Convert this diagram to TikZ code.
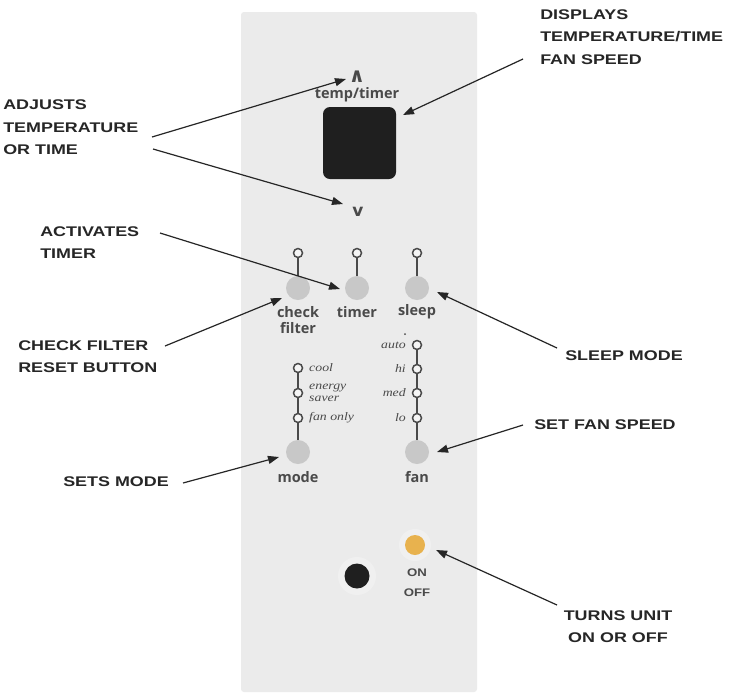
\documentclass[tikz,border=0pt]{standalone}
\usepackage{fontspec}
\setmainfont{Liberation Sans}
\newfontfamily\panelfont{Open Sans}
\newfontfamily\italfont{Liberation Serif}
\newfontfamily\symfont{DejaVu Sans}
\usetikzlibrary{arrows.meta,calc}
\definecolor{panel}{HTML}{EBEBEB}
\definecolor{btn}{HTML}{C8C8C8}
\definecolor{ink}{HTML}{262626}
\definecolor{ptext}{HTML}{4A4A4A}
\definecolor{onbtn}{HTML}{E8B24E}
\begin{document}
\begin{tikzpicture}[x=1pt,y=-1pt,
  callout/.style={font=\fontsize{14}{22.5}\selectfont\bfseries, text=ink, align=left, inner sep=0pt, xscale=1.28, anchor=west},
  pnl/.style={font=\panelfont\bfseries\fontsize{14.5}{17}\selectfont, text=ptext, inner sep=0pt, align=center},
  ital/.style={font=\italfont\itshape\fontsize{11.5}{13}\selectfont, text=ptext, inner sep=0pt, xscale=1.2},
  button/.style={circle, fill=btn, minimum size=24pt, inner sep=0pt},
  ring/.style={circle, draw=ptext, line width=1.5pt, fill=white!50!panel, minimum size=9pt, inner sep=0pt},
  stem/.style={draw=ptext, line width=1.5pt},
  arr/.style={draw=ink, line width=1.2pt, -{Triangle[length=11pt,width=8pt]}}
]
\useasboundingbox (0,0) rectangle (743,694);
\fill[white] (0,0) rectangle (743,694);
% panel
\fill[panel, rounded corners=3pt] (241,12) rectangle (477,692);

% display
\node[fill=black!88, rounded corners=7pt, minimum width=73pt, minimum height=72pt, inner sep=0pt] (disp) at (359.5,143) {};
\node[font=\symfont\bfseries\fontsize{20}{20}\selectfont, text=ptext, inner sep=0pt] (up) at (357,77) {∧};
\node[pnl] (tt) at (357,95) {temp/timer};
\node[font=\symfont\bfseries\fontsize{17}{17}\selectfont, text=ptext, inner sep=0pt] (down) at (358,212) {v};

% top row buttons
\node[button] (chkb) at (298,288) {};
\node[button] (timb) at (357,288) {};
\node[button] (slpb) at (417,288) {};
\node[ring] (chkr) at (298,253) {};
\node[ring] (timr) at (357,253) {};
\node[ring] (slpr) at (417,253) {};
\draw[stem] (chkr) -- (chkb);
\draw[stem] (timr) -- (timb);
\draw[stem] (slpr) -- (slpb);
\node[pnl] (chkt) at (298,320) {check\\[-1pt]filter};
\node[pnl] (timt) at (357,312) {timer};
\node[pnl] (slpt) at (417,312) {sleep};
\fill[ptext] (405,334) circle (1pt);

% mode column
\node[button] (modeb) at (298,452) {};
\node[ring] (mr1) at (298,368) {};
\node[ring] (mr2) at (298,393) {};
\node[ring] (mr3) at (298,418) {};
\draw[stem] (mr1) -- (mr2);
\draw[stem] (mr2) -- (mr3);
\draw[stem] (mr3) -- (modeb);
\node[ital, anchor=west] (cool) at (309,368) {cool};
\node[ital, anchor=west, align=left, font=\italfont\itshape\fontsize{11.5}{12}\selectfont] (esav) at (309,393) {energy\\saver};
\node[ital, anchor=west] (fonly) at (309,418) {fan only};
\node[pnl] (modet) at (298,477) {mode};

% fan column
\node[button] (fanb) at (417,452) {};
\node[ring] (fr1) at (417,345) {};
\node[ring] (fr2) at (417,369) {};
\node[ring] (fr3) at (417,393) {};
\node[ring] (fr4) at (417,418) {};
\draw[stem] (fr1) -- (fr2);
\draw[stem] (fr2) -- (fr3);
\draw[stem] (fr3) -- (fr4);
\draw[stem] (fr4) -- (fanb);
\node[ital, anchor=east] (auto) at (406,345) {auto};
\node[ital, anchor=east] (hi) at (406,369) {hi};
\node[ital, anchor=east] (med) at (406,393) {med};
\node[ital, anchor=east] (lo) at (406,418) {lo};
\node[pnl] (fant) at (417,477) {fan};

% power
\fill[white!25!panel] (357,576) circle (19pt);
\fill[white!25!panel] (415,545) circle (16pt);
\node[circle, fill=black!88, minimum size=25pt, inner sep=0pt] (blk) at (357,576) {};
\node[circle, fill=onbtn, minimum size=20pt, inner sep=0pt] (onb) at (415,545) {};
\node[font=\bfseries\fontsize{11}{20}\selectfont, text=ptext, inner sep=0pt, align=center, xscale=1.2] (ont) at (417,583) {ON\\OFF};

% callouts
\node[callout] (adj) at (3,127.5) {ADJUSTS\\TEMPERATURE\\OR TIME};
\node[callout] (dsp) at (540,37) {DISPLAYS\\TEMPERATURE/TIME\\FAN SPEED};
\node[callout] (act) at (40,242.5) {ACTIVATES\\TIMER};
\node[callout] (chk) at (18,356.5) {CHECK FILTER\\RESET BUTTON};
\node[callout] (slp) at (565,356) {SLEEP MODE};
\node[callout] (fan) at (534,425) {SET FAN SPEED};
\node[callout] (mod) at (63,482) {SETS MODE};
\node[callout, align=center, anchor=center] (onc) at (618,626.5) {TURNS UNIT\\ON OR OFF};

% connector ends
\coordinate (adjA) at (152,137);
\coordinate (adjB) at (153,149);
\coordinate (upT) at (346,79);
\coordinate (dnT) at (343,204);
\coordinate (dspS) at (523,59);
\coordinate (dspT) at (403,115);
\coordinate (actS) at (160,233);
\coordinate (actT) at (340,289);
\coordinate (chkS) at (165,346);
\coordinate (chkT) at (282,298);
\coordinate (slpS) at (557,348);
\coordinate (slpT) at (437,292);
\coordinate (fanS) at (523,425);
\coordinate (fanT) at (437,452);
\coordinate (modS) at (183,483);
\coordinate (modT) at (279,457);
\coordinate (onS) at (557,605);
\coordinate (onT) at (436,550);

\draw[arr] (adjA) -- (upT);
\draw[arr] (adjB) -- (dnT);
\draw[arr] (dspS) -- (dspT);
\draw[arr] (actS) -- (actT);
\draw[arr] (chkS) -- (chkT);
\draw[arr] (slpS) -- (slpT);
\draw[arr] (fanS) -- (fanT);
\draw[arr] (modS) -- (modT);
\draw[arr] (onS) -- (onT);
\end{tikzpicture}
\end{document}
